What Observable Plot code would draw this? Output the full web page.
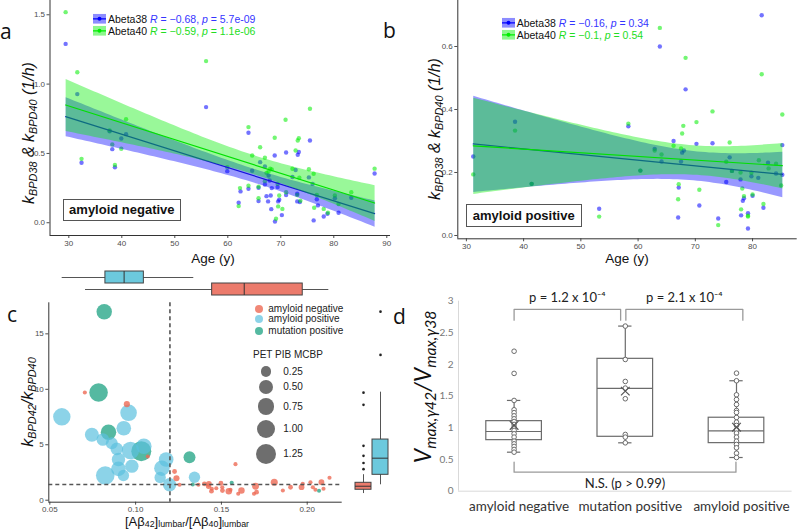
<!DOCTYPE html>
<html><head><meta charset="utf-8">
<script src="https://cdn.jsdelivr.net/npm/d3@7"></script>
<script src="https://cdn.jsdelivr.net/npm/@observablehq/plot@0.6"></script>
<style>
body{margin:0;background:#fff;}
#root{position:relative;width:798px;height:529px;overflow:hidden;background:#fff;font-family:"Liberation Sans",Arial,sans-serif;}
#root svg{position:absolute;}
</style></head><body><div id="root"></div>
<script>
// ---------------- Panel a (amyloid negative) ----------------
const ageA38 = [29.4,31.6,32.4,37.7,38.2,38.7,39.9,40.8,55.9,59.9,62.05,62.4,63.9,63.9,64.6,65.8,65.8,66.1,67.0,67.0,67.3,67.6,67.7,67.9,68.1,68.2,68.3,68.85,68.9,69.4,69.5,69.7,70.2,71.0,71.0,72.2,72.8,73.1,73.1,73.2,73.4,73.6,75.3,75.5,76.0,76.2,76.8,77.0,78.1,78.8,80.2,80.9,83.3,87.7];
const kA38 = [1.29,0.928,0.433,0.66,0.531,0.40,0.608,0.639,0.834,0.372,0.144,0.226,0.245,0.649,0.375,0.156,0.252,0.437,0.406,0.276,0.192,0.154,0.34,0.305,0.197,0.098,0.25,0.485,0.009,0.257,0.154,0.166,0.055,0.507,0.2,0.33,0.38,0.209,0.154,0.49,0.51,0.149,0.327,0.593,0.28,0.017,0.17,0.125,0.045,0.065,0.177,0.072,0.18,0.355];
const ageA40 = [29.4,31.6,32.4,37.7,38.2,38.7,39.9,40.8,55.9,59.9,62.05,62.3,63.9,63.9,64.6,65.8,65.8,66.1,67.0,67.0,67.3,67.7,68.0,68.3,68.85,69.1,69.4,69.5,69.7,70.3,70.9,71.0,72.2,72.8,73.1,73.2,73.4,73.5,73.7,75.3,75.5,76.2,76.3,76.8,78.1,78.9,80.2,80.9,83.3,87.7];
const kA40 = [1.519,1.086,0.461,0.665,0.565,0.416,0.534,0.747,1.166,0.40,0.12,0.25,0.267,0.69,0.485,0.177,0.26,0.545,0.469,0.30,0.36,0.37,0.39,0.385,0.613,0.029,0.28,0.118,0.197,0.10,0.743,0.22,0.389,0.521,0.2,0.593,0.61,0.325,0.159,0.386,0.822,0.353,0.108,0.2,0.10,0.072,0.197,0.135,0.22,0.39];
const statA = ["R = \u22120.68, p = 5.7e-09", "R = \u22120.59, p = 1.1e-06"];

// ---------------- Panel b (amyloid positive) ----------------
const ageB38 = [31.2,38.5,41.4,53.2,58.3,60.4,62.9,63.8,64.1,66.2,67.0,67.1,67.5,67.7,68.0,68.3,70.2,70.7,73.0,74.0,75.4,76.0,76.4,77.9,78.0,78.3,78.5,79.2,79.2,79.8,80.0,81.0,81.6,81.9,82.7,84.1,85.2,85.2];
const kB38 = [0.251,0.361,0.164,0.085,0.347,0.206,0.275,0.60,0.235,0.30,0.057,0.152,0.235,0.263,0.27,0.464,0.291,0.095,0.293,0.054,0.17,0.248,0.205,0.178,0.064,0.11,0.118,0.071,0.022,0.188,0.126,0.183,0.699,0.088,0.231,0.197,0.287,0.193];
const ageB40 = [31.2,38.5,41.4,53.2,58.3,60.4,62.9,63.8,64.1,66.2,67.0,67.1,67.5,67.7,67.9,68.3,70.2,70.7,73.0,74.0,75.4,76.0,76.4,77.9,78.0,78.2,78.5,79.2,79.2,79.8,80.0,81.1,81.6,81.9,82.8,84.1,85.2,85.0];
const kB40 = [0.194,0.333,0.164,0.06,0.355,0.206,0.27,0.659,0.257,0.285,0.115,0.163,0.276,0.324,0.348,0.564,0.36,0.145,0.394,0.033,0.234,0.295,0.205,0.2,0.083,0.149,0.125,0.063,0.06,0.199,0.13,0.239,0.512,0.1,0.213,0.228,0.384,0.159];
const statB = ["R = \u22120.16, p = 0.34", "R = \u22120.1, p = 0.54"];

// ---------------- Panel c ----------------
const cGroups = ["amyloid negative","amyloid positive","mutation positive"];
const posX = [0.057,0.0959,0.0931,0.0745,0.0809,0.0861,0.089,0.097,0.1048,0.09,0.1178,0.0978,0.1153,0.09,0.0823,0.0929,0.1143,0.1343,0.1198];
const posY = [7.52,7.88,6.49,5.9,5.47,5.14,4.63,4.48,4.87,3.67,3.67,3.07,2.89,2.83,2.23,2.23,2.05,2.07,1.39];
const posPib = [0.85,0.76,0.56,0.50,0.39,0.34,0.39,0.85,0.64,0.45,0.56,0.45,0.64,0.56,0.99,0.30,0.30,0.30,0.45];
const mutX = [0.0817,0.0784,0.0842,0.1033,0.1314,0.1333,0.156,0.2069];
const mutY = [17.0,9.71,6.13,4.42,3.88,1.42,1.57,0.85];
const mutPib = [0.64,0.99,0.64,1.17,0.34,0.01,0.01,0.01];
const negX = [0.0704,0.0949,0.1071,0.1227,0.1238,0.1256,0.1366,0.1401,0.1425,0.1427,0.1442,0.1444,0.147,0.1497,0.1505,0.1506,0.1543,0.1553,0.1582,0.1598,0.1617,0.169,0.1699,0.1705,0.1808,0.1858,0.1903,0.1967,0.1974,0.2019,0.2033,0.2048,0.2083,0.2095,0.213];
const negY = [9.71,8.66,3.94,2.59,1.98,1.39,1.39,1.48,1.26,1.48,0.81,1.03,1.08,1.53,1.17,0.87,0.81,0.94,3.25,0.58,0.87,0.58,1.26,0.72,1.62,0.87,1.17,1.17,1.48,1.62,1.17,0.94,1.62,1.03,2.02];
const negPib = [0.01,0.05,0.01,0.02,0.05,0.01,0.01,0.02,0.03,0.04,0.02,0.01,0.01,0.02,0.01,0.02,0.06,0.01,0.01,0.01,0.06,0.01,0.07,0.02,0.08,0.01,0.02,0.04,0.01,0.01,0.01,0.01,0.04,0.01,0.01];
const cutRatio = 0.12, cutK = 1.42;
const pibLegend = [0.25,0.50,0.75,1.00,1.25];
// marginal boxplots
const topGroups = ["amyloid positive","amyloid negative"];
const topLow = [0.0572,0.0708], topQ1 = [0.0824,0.1446], topMed = [0.0933,0.1633], topQ3 = [0.1048,0.1974], topHigh = [0.1339,0.2126];
const sideGroups = ["amyloid negative","amyloid positive"];
const sideLow = [0.6,1.39], sideQ1 = [0.94,2.29], sideMed = [1.26,3.79], sideQ3 = [1.57,5.47], sideHigh = [2.3,9.74];
const sideOutNeg = [9.7,8.6,4.9,4.0,3.35,2.8];
const sideOutPos = [17.0,13.1];

// ---------------- Panel d ----------------
const dCats = ["amyloid negative","mutation positive","amyloid positive"];
const dLow = [0.616,0.764,0.532], dQ1 = [0.806,0.859,0.759], dMed = [0.943,1.622,0.954], dQ3 = [1.106,2.09,1.16], dHigh = [1.433,2.607,1.744], dMean = [1.039,1.58,1.01];
const dNeg = [2.21,1.86,1.433,1.286,1.24,1.19,1.143,1.1,1.054,1.01,0.96,0.907,0.854,0.79,0.748,0.706,0.659,0.616];
const dMut = [2.607,2.08,1.733,1.628,1.46,0.896,0.854,0.764];
const dPos = [1.864,1.744,1.522,1.448,1.369,1.274,1.243,1.164,1.09,1.038,0.969,0.917,0.854,0.79,0.738,0.685,0.6,0.532];
const brFrom = [0,1.005,0], brTo = [0.958,2.057,1.995], brY = [2.87,2.87,0.30], brTip = [2.70,2.70,0.46];
const brLabel = ["p = 1.2 x 10\u207B\u2074","p = 2.1 x 10\u207B\u2074","N.S. (p > 0.99)"], brLabelY = [3.06,3.06,0.12];

// ================= drawing =================
const root = document.getElementById("root");
const SANS = '"Liberation Sans", Arial, sans-serif';
function put(svg, left, top){ svg.style.left = left+"px"; svg.style.top = top+"px"; root.appendChild(svg); return svg; }
function T(html, x, y, css="", anchor="start"){
  const d = document.createElement("div");
  d.innerHTML = html;
  const tx = anchor==="middle" ? "-50%" : anchor==="end" ? "-100%" : "0";
  d.style.cssText = `position:absolute;left:${x}px;top:${y}px;white-space:nowrap;line-height:1;transform:translate(${tx},-50%);${css}`;
  root.appendChild(d); return d;
}
function RT(html, x, y, css=""){
  const d = document.createElement("div");
  d.innerHTML = html;
  d.style.cssText = `position:absolute;left:${x}px;top:${y}px;white-space:nowrap;line-height:1;transform:translate(-50%,-50%) rotate(-90deg);${css}`;
  root.appendChild(d); return d;
}
const sub = (s, off=0.3) => `<span style="font-size:0.68em;position:relative;top:${off}em">${s}</span>`;

const blueC = "blue", greenC = "#00ee00";
function scatterPanel(o){
  const d38 = o.age38.map((a,i)=>({age:a,k:o.k38[i]}));
  const d40 = o.age40.map((a,i)=>({age:a,k:o.k40[i]}));
  return Plot.plot({
    width:o.w, height:265, marginLeft:o.ml, marginRight:o.mr, marginTop:0, marginBottom:o.mb,
    style:{fontFamily:SANS, fontSize:"8px", color:"#4d4d4d", background:"transparent", overflow:"visible"},
    x:{domain:o.xd}, y:{domain:o.yd},
    marks:[
      Plot.axisX({ticks:o.xt, tickSize:3, tickPadding:2, label:null}),
      Plot.axisY({ticks:o.yt, tickFormat:d3.format(".1f"), tickSize:3, tickPadding:2, label:null}),
      Plot.ruleX([o.xd[0]], {stroke:"#333"}),
      Plot.ruleY([o.yd[0]], {stroke:"#333"}),
      Plot.dot(d38, {x:"age", y:"k", r:2.2, fill:blueC, fillOpacity:0.55}),
      Plot.dot(d40, {x:"age", y:"k", r:2.2, fill:greenC, fillOpacity:0.55}),
      Plot.linearRegressionY(d38, {x:"age", y:"k", stroke:"#1515d8", strokeWidth:1.2, fill:blueC, fillOpacity:0.4}),
      Plot.linearRegressionY(d40, {x:"age", y:"k", stroke:"#00e000", strokeWidth:1.2, fill:greenC, fillOpacity:0.4})
    ]
  });
}
put(scatterPanel({age38:ageA38,k38:kA38,age40:ageA40,k40:kA40,w:400,ml:49.5,mr:10,mb:30,
  xd:[26.45,90.7], yd:[-0.092,1.603], xt:[30,40,50,60,70,80,90], yt:[0,0.5,1,1.5]}), 0, 0);
put(scatterPanel({age38:ageB38,k38:kB38,age40:ageB40,k40:kB40,w:398,ml:57.3,mr:1.3,mb:26.7,
  xd:[28.5,87.8], yd:[-0.0105,0.746], xt:[30,40,50,60,70,80], yt:[0,0.2,0.4,0.6]}), 400, 0);

// legends / labels a & b
function key(col){
  return `<svg width="13" height="10" style="position:static;vertical-align:middle"><rect width="13" height="10" fill="${col}" fill-opacity="0.45"/><line x1="0" x2="13" y1="5" y2="5" stroke="${col}" stroke-width="1.2"/><circle cx="6.5" cy="5" r="2" fill="${col}"/></svg>`;
}
function abLegend(x, y, stats){
  T(key(blueC), x, y, "font-size:10px");
  T(key(greenC), x, y+12, "font-size:10px");
  T("Abeta38", x+15, y, "font-size:10.5px;color:#111");
  T("Abeta40", x+15, y+12, "font-size:10.5px;color:#111");
  const fmt = s => s.replace(/^R/,"<i>R</i>").replace(/, p/,", <i>p</i>");
  T(fmt(stats[0]), x+57, y, "font-size:10.5px;color:#3535ff");
  T(fmt(stats[1]), x+57, y+12, "font-size:10.5px;color:#22dd22");
}
abLegend(93, 19, statA);
abLegend(501.7, 22.5, statB);
const yLabAB = `k${sub("BPD38")} &amp; k${sub("BPD40")} (1/h)`;
RT(yLabAB, 29, 133, "font-size:16px;font-style:italic;color:#111");
RT(yLabAB, 435, 129, "font-size:16px;font-style:italic;color:#111");
T("Age (y)", 213, 258.5, "font-size:13.5px;color:#111", "middle");
T("Age (y)", 627, 258.5, "font-size:13.5px;color:#111", "middle");
function boxLabel(text, x, y, w, h){
  const d = document.createElement("div");
  d.textContent = text;
  d.style.cssText = `position:absolute;left:${x}px;top:${y}px;width:${w}px;height:${h}px;box-sizing:border-box;border:1px solid #555;background:#fff;display:flex;align-items:center;justify-content:center;font-weight:bold;font-size:13px;color:#111;`;
  root.appendChild(d);
}
boxLabel("amyloid negative", 62.7, 199, 118.3, 21.7);
boxLabel("amyloid positive", 465.7, 204, 116, 22.7);

// ---------------- panel c drawing ----------------
const cColors = ["#ee6a55","#5bc0de","#2aa889"];
const cOpac = [0.8,0.7,0.8];
const cData = [
  ...posX.map((x,i)=>({g:"amyloid positive", x, y:posY[i], pib:posPib[i]})),
  ...mutX.map((x,i)=>({g:"mutation positive", x, y:mutY[i], pib:mutPib[i]})),
  ...negX.map((x,i)=>({g:"amyloid negative", x, y:negY[i], pib:negPib[i]}))
];
const cXd = [0.0494,0.2204], cYd = [-0.18,17.8];
const cML = 48.3, cMR = 3.3, cMT = 37.3, cMB = 27.3;
const plotC = Plot.plot({
  width:345, height:264, marginLeft:cML, marginRight:cMR, marginTop:cMT, marginBottom:cMB,
  style:{fontFamily:SANS, fontSize:"8px", color:"#4d4d4d", background:"transparent", overflow:"visible"},
  x:{domain:cXd}, y:{domain:cYd},
  r:{type:"sqrt", domain:[0.25,1.25], range:[5.3,10.3]},
  color:{domain:cGroups, range:cColors},
  marks:[
    Plot.axisX({ticks:[0.05,0.10,0.15,0.20], tickFormat:d3.format(".2f"), tickSize:3, tickPadding:1, label:null}),
    Plot.axisY({ticks:[0,5,10,15], tickSize:3, tickPadding:2, label:null}),
    Plot.ruleX([cXd[0]], {stroke:"#333"}),
    Plot.ruleY([cYd[0]], {stroke:"#333"}),
    Plot.dot(cData, {x:"x", y:"y", r:"pib", fill:"g", fillOpacity:d=>cOpac[cGroups.indexOf(d.g)]}),
    Plot.ruleX([cutRatio], {stroke:"#555", strokeWidth:1.6, strokeDasharray:"4,3"}),
    Plot.ruleY([cutK], {stroke:"#555", strokeWidth:1.6, strokeDasharray:"4,3"})
  ]
});
put(plotC, 0, 265);
const rScale = plotC.scale("r");

// top marginal boxplot
const topStats = topGroups.map((g,i)=>({g, lo:topLow[i], q1:topQ1[i], med:topMed[i], q3:topQ3[i], hi:topHigh[i]}));
const boxFill = {"amyloid positive":"#6cc9dd","amyloid negative":"#ec7b6c"};
put(Plot.plot({
  width:345, height:35, marginLeft:cML, marginRight:cMR, marginTop:5, marginBottom:5,
  style:{background:"transparent", overflow:"visible"},
  x:{domain:cXd, axis:null}, y:{type:"band", domain:topGroups, axis:null, padding:0.04},
  marks:[
    Plot.ruleY(topStats, {y:"g", x1:"lo", x2:"hi", stroke:"#555"}),
    Plot.barX(topStats, {y:"g", x1:"q1", x2:"q3", fill:d=>boxFill[d.g], stroke:"#444"}),
    Plot.tickX(topStats, {y:"g", x:"med", stroke:"#333"})
  ]
}), 0, 265);

// side marginal boxplot
const sideStats = sideGroups.map((g,i)=>({g, lo:sideLow[i], q1:sideQ1[i], med:sideMed[i], q3:sideQ3[i], hi:sideHigh[i]}));
const sideOut = [...sideOutNeg.map(v=>({g:"amyloid negative", v})), ...sideOutPos.map(v=>({g:"amyloid positive", v}))];
put(Plot.plot({
  width:55, height:264, marginLeft:8, marginRight:10.5, marginTop:cMT, marginBottom:cMB,
  style:{background:"transparent", overflow:"visible"},
  y:{domain:cYd, axis:null}, x:{type:"band", domain:sideGroups, axis:null, padding:0.04},
  marks:[
    Plot.ruleX(sideStats, {x:"g", y1:"lo", y2:"hi", stroke:"#555"}),
    Plot.barY(sideStats, {x:"g", y1:"q1", y2:"q3", fill:d=>boxFill[d.g], stroke:"#444"}),
    Plot.tickY(sideStats, {x:"g", y:"med", stroke:"#333"}),
    Plot.dot(sideOut, {x:"g", y:"v", r:1.3, fill:"#222"})
  ]
}), 345, 265);

// c legends / labels
const legY = [308.7, 319.3, 330.7];
cGroups.forEach((g,i)=>{
  T(`<span style="display:inline-block;width:8px;height:8px;border-radius:50%;background:${cColors[i]};opacity:${cOpac[i]}"></span>`, 254.7, legY[i], "font-size:8px;line-height:0");
  T(g, 268.3, legY[i], "font-size:10px;color:#222");
});
T("PET PIB MCBP", 253, 355, "font-size:10px;color:#222");
const pibY = [371.7, 386.7, 406.7, 429, 454];
pibLegend.forEach((v,i)=>{
  const r = rScale.apply(v);
  const c = document.createElement("div");
  c.style.cssText = `position:absolute;left:${266-r}px;top:${pibY[i]-r}px;width:${2*r}px;height:${2*r}px;border-radius:50%;background:#555;opacity:0.85`;
  root.appendChild(c);
  T(d3.format(".2f")(v), 283.3, pibY[i], "font-size:10px;color:#222");
});
RT(`k${sub("BPD42")}/k${sub("BPD40")}`, 28, 402, "font-size:16px;font-style:italic;color:#111");
T(`[A\u03B2${sub("42",0.15)}]${sub("lumbar",0.15)}/[A\u03B2${sub("40",0.15)}]${sub("lumbar",0.15)}`, 187, 520.5, "font-size:13px;color:#111", "middle");

// ---------------- panel d drawing ----------------
const boxes = dCats.map((c,i)=>({i, lo:dLow[i], q1:dQ1[i], med:dMed[i], q3:dQ3[i], hi:dHigh[i], mean:dMean[i]}));
const dPts = [...dNeg.map(v=>({i:0,v})), ...dMut.map(v=>({i:1,v})), ...dPos.map(v=>({i:2,v}))];
const brPath = brFrom.flatMap((f,b)=>[
  {b, x:f, y:brTip[b]}, {b, x:f, y:brY[b]}, {b, x:brTo[b], y:brY[b]}, {b, x:brTo[b], y:brTip[b]}
]);
const brText = brLabel.map((t,b)=>({t, x:(brFrom[b]+brTo[b])/2, y:brLabelY[b]}));
const HW = 0.25, CAP = 0.06;
const dXd = [-0.5,2.5];
put(Plot.plot({
  width:378, height:244, marginLeft:38, marginRight:6.4, marginTop:15.7, marginBottom:38.3,
  style:{fontFamily:"Lato, sans-serif", fontSize:"10px", color:"#777", background:"transparent", overflow:"visible"},
  x:{domain:dXd}, y:{domain:[0,3]},
  marks:[
    Plot.axisY({ticks:[0,0.5,1,1.5,2,2.5,3], tickFormat:d=>String(d), tickSize:0, tickPadding:5, label:null}),
    Plot.axisX({ticks:[0,1,2], tickFormat:i=>dCats[i], tickSize:0, tickPadding:10, fontSize:13.5, color:"#333", dx:5, label:null}),
    Plot.ruleX([dXd[0]], {stroke:"#d9d9d9"}),
    Plot.ruleY([0], {stroke:"#d9d9d9"}),
    Plot.rect(boxes, {x1:d=>d.i-HW, x2:d=>d.i+HW, y1:"q1", y2:"q3", fill:"white", stroke:"#6b6b6b", strokeWidth:1.2}),
    Plot.ruleY(boxes, {y:"med", x1:d=>d.i-HW, x2:d=>d.i+HW, stroke:"#6b6b6b", strokeWidth:1.2}),
    Plot.ruleX(boxes, {x:"i", y1:"q3", y2:"hi", stroke:"#6b6b6b", strokeWidth:1.2}),
    Plot.ruleX(boxes, {x:"i", y1:"lo", y2:"q1", stroke:"#6b6b6b", strokeWidth:1.2}),
    Plot.ruleY(boxes, {y:"hi", x1:d=>d.i-CAP, x2:d=>d.i+CAP, stroke:"#6b6b6b", strokeWidth:1.2}),
    Plot.ruleY(boxes, {y:"lo", x1:d=>d.i-CAP, x2:d=>d.i+CAP, stroke:"#6b6b6b", strokeWidth:1.2}),
    Plot.dot(dPts, {x:"i", y:"v", r:2.3, stroke:"#6b6b6b", fill:"white", strokeWidth:1}),
    Plot.dot(boxes, {x:"i", y:"mean", symbol:"times", r:4, stroke:"#555", strokeWidth:1.2}),
    Plot.line(brPath, {x:"x", y:"y", z:"b", stroke:"#9a9a9a", strokeWidth:1.3}),
    Plot.text(brText, {x:"x", y:"y", text:"t", fontSize:13, fill:"#222"})
  ]
}), 420, 285);
RT(`V${sub("max,\u03B342")}/V${sub("max,\u03B338")}`, 422, 387, "font-size:23px;font-style:italic;color:#111;font-family:Lato,sans-serif");

// panel letters
T("a", 0, 31, "font-size:21px;color:#111;font-family:'Open Sans',sans-serif");
T("b", 383, 30, "font-size:21px;color:#111;font-family:'Open Sans',sans-serif");
T("c", 7, 314, "font-size:21px;color:#111;font-family:'Open Sans',sans-serif");
T("d", 393, 316, "font-size:21px;color:#111;font-family:'Open Sans',sans-serif");
</script></body></html>
